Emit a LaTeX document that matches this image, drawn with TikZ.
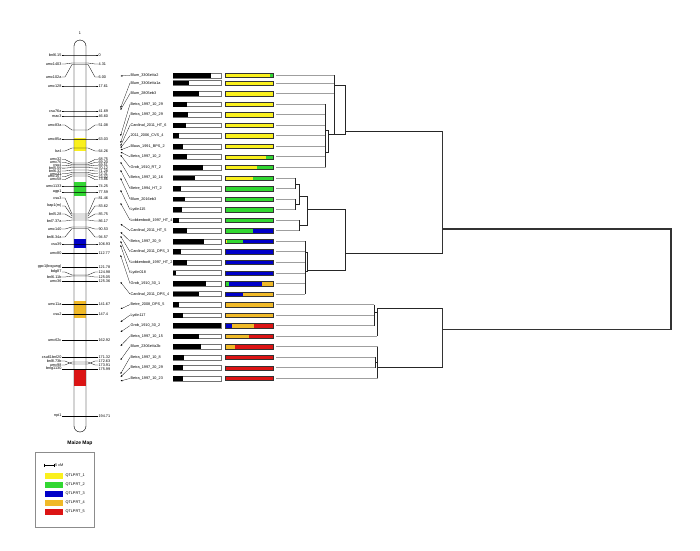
\documentclass[tikz,border=0pt]{standalone}
\usepackage{fontspec}
\setmainfont{Liberation Sans}
\usetikzlibrary{arrows.meta}
\definecolor{qtlone}{RGB}{250,240,30}
\definecolor{qtltwo}{RGB}{50,215,50}
\definecolor{qtlthree}{RGB}{0,0,200}
\definecolor{qtlfour}{RGB}{240,185,40}
\definecolor{qtlfive}{RGB}{220,20,20}
\newcommand{\mapfont}{\fontsize{3.8}{4.2}\selectfont}

\begin{document}
\begin{tikzpicture}[x=1pt,y=-1pt,
  chrlab/.style={font=\mapfont,inner sep=0.4pt},
  namelab/.style={font=\mapfont,inner sep=0.4pt,anchor=west},
  chrline/.style={line width=0.3pt},
  leader/.style={line width=0.25pt,-{Latex[length=1.8pt,width=1.6pt]}},
  leaf/.style={line width=0.8pt,gray!75},
  tree/.style={line width=0.9pt,black!85},
  root/.style={line width=1.2pt,black!80}]
   \useasboundingbox[fill=white] (0,0) rectangle (700,550);
   % chromosome
   \node[chrlab] (chrname) at (80,33) {1};
   \filldraw[fill=white,draw=black!70,line width=0.4pt,rounded corners=6pt] (74,40) rectangle (86,432);
   \fill[qtlone] (74,138) rectangle (86,151);
   \fill[qtltwo] (74,182) rectangle (86,196);
   \fill[qtlthree] (74,239) rectangle (86,248);
   \fill[qtlfour] (74,301) rectangle (86,318);
   \fill[qtlfive] (74,369) rectangle (86,386);
   \draw[black!70,line width=0.4pt,rounded corners=6pt] (74,40) rectangle (86,432);
   \foreach \lname/\ly/\by/\rv [count=\i] in {bnl6.15/55/55/0, umc1403/64/63/4.31, umc102a/77/64.5/6.00,
     umc128/86/86/17.61, csu76a/111/111/41.69, mac3/116/116/46.60, umc83a/125/130/51.08,
     umc85a/139/139/63.03, bz4/151/148/64.26, umc32/159.5/163/68.75, umc76/162.4/164.5/69.20,
     csu4/165.2/166/69.51, bnl5.59/168.1/167.5/70.12, bnl6.32/171/170/71.28, umc33/173.8/172.5/72.31,
     umc157/176.7/174/73.02, umc58/179.5/176/73.86, umc1133/186/186/74.25, agp1/192/192/77.59,
     csu3/198/214/81.46, bap1(m)/206/216/83.62, bnl5.28/214/218/85.75, bnl7.37a/221/220/86.17,
     umc140/229/227/90.53, bnl6.34a/237/228.5/94.57, csu39/244/244/106.93, umc80/253/253/112.77,
     gpc1(bogung)/267/267/121.78, bdg87/272/275/124.98, bnl6.11b/277/276/125.05, umc36/281/281/125.36,
     umc11a/304/304/141.67, csu2/314/314/147.4, umc62c/340/340/162.92, csu61bnl20/357/357/171.32,
     bnl8.73b/361/364/172.63, umc98/365/362/173.91, bnlg1130/369/369/175.99, npi1/416/416/194.71} {
    \node[chrlab,anchor=east] (ml\i) at (62,\ly) {\lname};
    \node[chrlab,anchor=west] (mr\i) at (98,\ly) {\rv};
    \draw[chrline] (ml\i.east) -- ++(3,0) -- (72,\by) -- (88,\by) -- (95,\ly) -- (mr\i.west);
   }
   \node[font=\fontsize{5}{6}\selectfont\bfseries] (maptitle) at (80,443) {Maize Map};
   % legend
   \draw[black!45,line width=0.4pt] (35,452) rectangle (94,527);
   \draw[line width=0.3pt] (44,463.5) -- (44,466.5) (44,465) -- (54,465) (54,463.5) -- (54,466.5);
   \node[chrlab,anchor=west] (scalelab) at (54.5,465) {5 cM};
   \foreach \c [count=\j] in {qtlone,qtltwo,qtlthree,qtlfour,qtlfive} {
    \fill[\c] (45,{464+9*\j}) rectangle (63,{470+9*\j});
    \node[chrlab,anchor=west] (leg\j) at (65,{467+9*\j}) {QTLPRT\_\j};
   }
   % lines, bars and leaves
   \foreach \k/\nm/\blk/\ca/\sa/\cb/\sb/\cc/\p/\le in {
     1/Blum\_3306eVa2/.79/qtlone/.94/qtlone/.94/qtltwo/76/334,
     2/Blum\_3306eVa1a/.33/qtlone/0/qtlone/0/qtlone/108/334,
     3/Blum\_2805eb3/.55/qtlone/0/qtlone/0/qtlone/110/334,
     4/Betra\_1997\_10\_29/.30/qtlone/0/qtlone/0/qtlone/136/325.7,
     5/Betra\_1997\_20\_29/.32/qtlone/0/qtlone/0/qtlone/143/325.7,
     6/Cardinal\_2011\_HT\_6/.27/qtlone/0/qtlone/0/qtlone/146/325.7,
     7/2011\_2006\_CVS\_4/.12/qtlone/0/qtlone/0/qtlone/148/325.7,
     8/Blaus\_1991\_BPS\_2/.21/qtlone/0/qtlone/0/qtlone/150/325.7,
     9/Betra\_1997\_10\_2/.30/qtlone/.86/qtlone/.86/qtltwo/152/325.7,
     10/Grob\_1910\_RT\_2/.63/qtlone/.66/qtlone/.66/qtltwo/155/325.7,
     11/Betra\_1997\_10\_16/.46/qtlone/.59/qtlone/.59/qtltwo/162/295.7,
     12/Betre\_1994\_HT\_2/.16/qtltwo/0/qtltwo/0/qtltwo/170/295.7,
     13/Blum\_2016eb3/.26/qtltwo/0/qtltwo/0/qtltwo/178/295.7,
     14/Lydin115/.18/qtltwo/0/qtltwo/0/qtltwo/190/295.7,
     15/Lobkenbodt\_1997\_HT\_4/.12/qtltwo/0/qtltwo/0/qtltwo/203/299,
     16/Cardinal\_2011\_HT\_5/.30/qtltwo/.58/qtltwo/.58/qtlthree/224/299,
     17/Betra\_1997\_20\_9/.65/qtlone/.035/qtltwo/.38/qtlthree/232/305,
     18/Cardinal\_2011\_DPS\_3/.17/qtlthree/0/qtlthree/0/qtlthree/236/305,
     19/Lobkenbodt\_1997\_HT\_2/.30/qtlthree/0/qtlthree/0/qtlthree/241/305,
     20/Lydin018/.06/qtlthree/0/qtlthree/0/qtlthree/245/305,
     21/Grob\_1910\_30\_1/.69/qtltwo/.08/qtlthree/.77/qtlfour/255/305,
     22/Cardinal\_2011\_DPS\_4/.55/qtlthree/.37/qtlthree/.37/qtlfour/282/305,
     23/Betre\_2008\_DPS\_5/.12/qtlfour/0/qtlfour/0/qtlfour/309/374,
     24/Lydin117/.20/qtlfour/0/qtlfour/0/qtlfour/322/374,
     25/Grob\_1910\_30\_2/1/qtlthree/.14/qtlfour/.61/qtlfive/332/374,
     26/Betra\_1997\_10\_15/.55/qtlfour/.49/qtlfour/.49/qtlfive/346/377.3,
     27/Blum\_2306eVa2b/.58/qtlfour/.21/qtlfour/.21/qtlfive/360/377.5,
     28/Betra\_1997\_10\_8/.23/qtlfive/0/qtlfive/0/qtlfive/374/375,
     29/Betra\_1997\_20\_29/.20/qtlfive/0/qtlfive/0/qtlfive/377/375,
     30/Betra\_1997\_10\_23/.20/qtlfive/0/qtlfive/0/qtlfive/381/377.5} {
    \pgfmathsetmacro\yy{ifthenelse(\k==1,75.3,83+(\k-2)*10.55)}
    \node[namelab] (n\k) at (130,\yy) {\nm};
    \coordinate (p\k) at (120.5,\p);
    \draw[leader] (n\k.west) -- (p\k);
    \filldraw[fill=white,draw=black!55,line width=0.3pt] (173,\yy-2.4) rectangle (221,\yy+2.4);
    \fill[black] (173,\yy-2.4) rectangle ({173+48*\blk},\yy+2.4);
    \fill[\cc] (225,\yy-2.2) rectangle (273,\yy+2.2);
    \fill[\cb] (225,\yy-2.2) rectangle ({225+48*\sb},\yy+2.2);
    \fill[\ca] (225,\yy-2.2) rectangle ({225+48*\sa},\yy+2.2);
    \draw[black!80,line width=0.3pt] (225,\yy-2.2) rectangle (273,\yy+2.2);
    \coordinate (l\k) at (\le,\yy);
    \draw[leaf] (276,\yy) -- (l\k);
   }
   % dendrogram, top group
   \draw[tree] (l1) -- (334,134);
   \draw[tree] (l4) -- (l10);
   \draw[tree] (325.7,130) -- (328.3,130) -- (328.3,152) -- (325.7,152);
   \draw[tree] (328.3,134) -- (345.7,134);
   \draw[tree] (334,85.7) -- (345.7,85.7) -- (345.7,134);
   \draw[tree] (345.7,131) -- (442.7,131);
   % middle group
   \draw[tree] (l11) -- (l12);
   \draw[tree] (l13) -- (l14);
   \draw[tree] (295.7,184) -- (299,184) -- (299,204) -- (295.7,204);
   \draw[tree] (l15) -- (l16);
   \draw[tree] (299,196.7) -- (307.7,196.7) -- (307.7,225) -- (299,225);
   \draw[tree] (307.7,209) -- (345.7,209);
   \draw[tree] (l17) -- (l22);
   \draw[tree] (305,252) -- (307.7,252) -- (307.7,271) -- (305,271);
   \draw[tree] (307.7,270.7) -- (345.7,270.7);
   \draw[tree] (345.7,209) -- (345.7,270.7);
   \draw[tree] (345.7,253) -- (442.7,253);
   % bottom group
   \draw[tree] (l23) -- (374,325.65);
   \draw[tree] (374,312) -- (377.3,312);
   \draw[tree] (377.3,308.3) -- (l26);
   \draw[tree] (377.3,308.3) -- (442.7,308.3);
   \draw[tree] (l28) -- (l29);
   \draw[tree] (375,362.5) -- (377.5,362.5);
   \draw[tree] (l27) -- (l30);
   \draw[tree] (377.5,367) -- (442.7,367);
   % root
   \draw[root] (442.7,131) -- (442.7,253);
   \draw[root] (442.7,308.3) -- (442.7,367);
   \draw[root] (442.7,229) -- (671,229) -- (671,329.3) -- (442.7,329.3);
\end{tikzpicture}
\end{document}
